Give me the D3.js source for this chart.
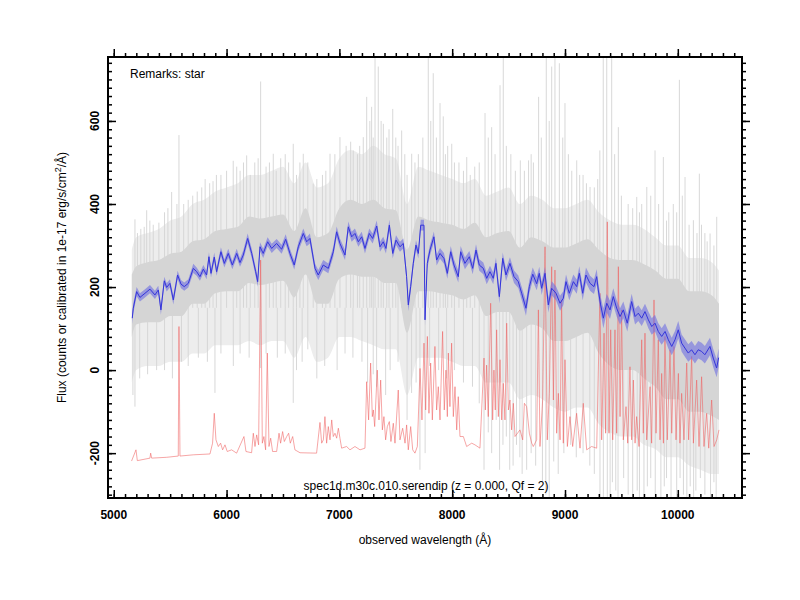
<!DOCTYPE html>
<html>
<head>
<meta charset="utf-8">
<script src="https://cdn.jsdelivr.net/npm/d3@7"></script>
<style>
body { margin: 0; background: #fff; }
text { font-family: "Liberation Sans", Arial, Helvetica, sans-serif; }
</style>
</head>
<body>
<div id="chart"></div>
<script>
const svgWidth = 800;
const svgHeight = 600;
const plotLeft = 108, plotRight = 742, plotTop = 57, plotBottom = 498;

const xDomain = [4949, 10569];
const yDomain = [-308, 754];
const xMajorTicks = [5000, 6000, 7000, 8000, 9000, 10000];
const yMajorTicks = [-200, 0, 200, 400, 600];

const xTitle = "observed wavelength (\u00c5)";
const remarks = "Remarks: star";
const specLabel = "spec1d.m30c.010.serendip (z = 0.000, Qf = 2)";

// smoothed object spectrum (blue) and its 1-sigma half width
const blueWave = [5164,5173,5203,5232,5277,5321,5365,5395,5418,5448,
  5469,5498,5528,5566,5596,5625,5661,5705,5735,5764,
  5794,5823,5844,5862,5891,5912,5950,5980,6015,6051,
  6090,6119,6148,6187,6223,6258,6276,6296,6325,6364,
  6400,6444,6488,6524,6562,6600,6636,6680,6710,6739,
  6784,6813,6857,6902,6946,6976,7005,7050,7079,7109,
  7138,7168,7198,7227,7265,7295,7331,7360,7389,7413,
  7443,7473,7502,7537,7567,7596,7611,7632,7655,7679,
  7700,7721,7750,7759,7779,7803,7838,7862,7892,7927,
  7957,7987,8016,8054,8075,8113,8152,8182,8211,8240,
  8276,8306,8335,8364,8388,8418,8448,8477,8512,8548,
  8586,8616,8654,8684,8714,8749,8772,8793,8823,8852,
  8882,8920,8956,8985,9009,9038,9074,9104,9127,9157,
  9186,9222,9257,9281,9295,9316,9340,9370,9399,9428,
  9458,9488,9517,9552,9591,9621,9650,9680,9709,9739,
  9769,9798,9827,9857,9887,9916,9946,9975,10004,10034,
  10063,10093,10122,10152,10181,10211,10240,10285,10314,10344,
  10362];
const blueFlux = [125,149,189,175,185,195,181,193,145,215,
  199,209,169,229,207,201,209,245,237,225,
  243,229,273,233,272,237,285,257,281,253,
  281,259,277,317,281,237,213,297,281,309,
  293,305,291,315,281,253,297,329,309,317,
  245,229,253,245,285,333,305,277,345,321,
  329,309,321,293,329,317,347,297,309,293,
  349,281,313,297,305,225,157,201,257,301,
  281,349,349,121,257,289,321,265,281,269,
  233,285,253,225,285,257,273,245,289,253,
  245,221,237,221,257,177,269,229,257,225,
  213,185,149,201,231,208,233,197,233,157,
  197,185,161,173,213,185,213,201,233,185,
  229,209,201,225,193,157,125,161,145,177,
  149,129,145,113,165,129,137,125,141,121,
  105,113,93,81,93,73,57,73,97,65,
  53,41,49,37,49,45,37,57,29,5,
  30];
const blueErr = [14,12,11,10,10,10,10,10,12,10,
  10,10,11,10,10,10,10,11,10,10,
  10,10,11,10,11,10,11,10,11,10,
  11,10,11,12,11,11,12,11,11,11,
  11,11,11,12,11,11,11,12,11,12,
  12,12,12,12,12,13,12,12,13,12,
  12,12,12,12,12,12,13,12,12,12,
  13,12,12,12,12,13,15,13,12,12,
  12,13,13,15,13,13,13,13,13,13,
  13,14,14,14,14,14,14,14,14,14,
  14,14,14,14,14,16,14,15,15,15,
  15,16,18,16,16,16,16,16,16,18,
  17,17,18,17,17,17,17,17,17,17,
  18,18,18,18,18,20,24,22,22,20,
  20,20,20,20,19,19,19,19,19,20,
  20,20,20,20,20,21,21,21,21,21,
  21,21,21,21,21,21,21,21,22,22,
  22];

// raw spectrum (gray): envelopes
const grayWave = [5160,5200,5300,5400,5500,5600,5700,5800,5900,6000,
  6100,6200,6300,6400,6500,6600,6700,6800,6900,7000,
  7100,7200,7300,7400,7500,7600,7700,7800,7900,8000,
  8100,8200,8300,8400,8500,8600,8700,8800,8900,9000,
  9100,9200,9300,9400,9500,9600,9700,9800,9900,10000,
  10100,10200,10300,10365];
const grayOuterHi = [290,320,330,340,360,370,400,410,430,440,
  450,470,470,480,490,450,500,440,450,510,
  530,520,540,520,510,400,490,480,470,460,
  450,460,420,430,440,400,420,410,390,390,
  400,410,380,360,350,350,340,320,300,300,
  270,270,260,240];
const grayCoreHi = [230,250,260,265,280,285,310,315,335,340,
  345,370,365,370,375,335,390,320,330,390,
  410,400,410,390,385,290,370,360,355,350,
  340,355,320,330,335,295,320,310,295,295,
  305,315,290,270,265,265,255,240,220,220,
  190,190,180,160];
const grayCoreLo = [80,110,115,115,130,130,160,160,185,190,
  190,210,205,210,215,175,230,160,160,220,
  230,225,225,210,210,90,190,190,185,180,
  170,180,130,140,140,95,110,100,70,70,
  80,90,40,10,0,0,-20,-40,-70,-70,
  -100,-100,-110,-120];
const grayOuterLo = [-30,0,10,10,20,20,40,40,60,60,
  60,70,60,70,70,30,80,20,30,80,
  80,70,60,50,50,-60,30,30,30,20,
  10,10,-30,-30,-30,-70,-60,-70,-90,-100,
  -90,-90,-130,-150,-160,-160,-180,-190,-210,-210,
  -230,-240,-250,-250];

const spikeUpWave = [5188,5240,5292,5350,5450,5513,5578,5620,5700,5780,
  5850,5950,6059,6120,6178,6250,6302,6350,6414,6480,
  6550,6591,6680,6720,6768,6850,6917,7005,7060,7123,
  7160,7212,7242,7286,7316,7345,7390,7420,7473,7520,
  7552,7600,7641,7700,7788,7832,7892,7921,7960,7996,
  8060,8129,8200,8291,8350,8424,8453,8520,8560,8604,
  8677,8720,8766,8834,8882,8911,8950,9000,9060,9104,
  9160,9222,9260,9309,9339,9370,9414,9473,9560,9636,
  9680,9725,9798,9872,9920,9960,10014,10064,10100,10138,
  10191,10240,10286,10345,
  5210,5270,5320,5400,5480,5560,5660,5740,5810,5880,
  5910,6000,6090,6150,6210,6280,6380,6440,6520,6620,
  6650,6800,6880,6960,7100,7180,7270,7300,7370,7440,
  7500,7580,7670,7740,7810,7860,7940,8020,8100,8160,
  8240,8320,8380,8480,8640,8700,8790,8860,8980,9030,
  9130,9190,9290,9440,9500,9600,9660,9760,9830,9900,
  9990,10040,10170,10210,10260,10320];
const spikeUpFlux = [363,340,385,350,380,429,566,400,420,440,
  450,470,504,480,517,500,695,490,521,510,
  500,545,521,500,449,470,521,561,540,529,
  520,561,658,634,760,731,593,560,629,540,
  577,470,521,520,760,715,643,611,540,545,
  500,513,490,619,585,686,760,520,480,505,
  505,500,658,760,731,760,739,643,480,505,
  470,441,440,529,760,760,760,585,400,417,
  400,441,529,513,380,400,699,465,350,361,
  473,330,329,369,
  330,345,360,355,390,400,410,430,460,455,
  470,480,490,500,470,510,500,480,520,470,
  500,460,480,520,550,540,600,560,600,580,
  560,520,500,560,600,560,520,500,480,470,
  500,560,520,540,480,520,560,600,560,520,
  470,450,460,520,420,390,380,420,400,360,
  380,420,330,350,310,300];

const spikeDnWave = [5188,5380,5520,5897,6060,6300,6591,6670,6980,7250,
  7330,7410,7640,7714,7760,8282,8390,8420,8450,8540,
  8600,8660,8800,8860,9310,9340,9375,9450,9470,9600,
  9640,9700,9730,9850,9900,9990,10080,10110,10160,10290,
  10320,
  5170,5230,5300,5450,5600,5660,5750,5830,5950,6120,
  6200,6350,6450,6520,6620,6720,6800,6870,7050,7120,
  7200,7300,7450,7520,7600,7680,7800,7880,7950,8020,
  8100,8180,8240,8320,8350,8480,8510,8570,8620,8700,
  8740,8830,8900,8940,8990,9050,9100,9160,9220,9260,
  9400,9420,9520,9560,9660,9760,9800,9880,9940,10020,
  10050,10140,10200,10240,10340];
const spikeDnFlux = [-88,0,-20,-55,10,5,-79,20,0,-30,
  -40,-60,-55,-240,-200,-240,-120,-240,-180,-230,
  -210,-240,-270,-320,-320,-320,-320,-290,-320,-320,
  -290,-320,-280,-320,-260,-320,-320,-280,-290,-320,
  -270,
  -60,-20,-10,0,20,10,30,20,40,40,
  30,40,30,40,0,50,-20,10,40,30,
  20,-10,0,20,-120,-30,10,0,-20,0,
  -30,-40,-80,-150,-200,-160,-240,-180,-250,-200,
  -230,-300,-220,-250,-200,-180,-210,-200,-230,-250,
  -320,-270,-260,-300,-320,-260,-320,-280,-320,-260,
  -300,-320,-260,-300,-320];

// sky spectrum (red)
const skyWave = [5158,5197,5209,5321,5327,5336,5469,5572,5578,5587,
  5705,5853,5876,5891,5906,5927,5947,5965,5986,6006,
  6045,6089,6154,6172,6222,6237,6252,6267,6284,6302,
  6317,6331,6346,6361,6376,6391,6408,6444,6465,6479,
  6497,6512,6533,6550,6565,6586,6606,6651,6798,6828,
  6843,6858,6872,6887,6902,6917,6932,6946,6961,6976,
  6991,7005,7020,7064,7094,7138,7183,7227,7242,7259,
  7277,7292,7301,7313,7336,7351,7366,7381,7395,7410,
  7425,7443,7457,7478,7493,7522,7537,7561,7582,7596,
  7611,7632,7650,7670,7691,7715,7732,7750,7765,7780,
  7794,7809,7824,7847,7862,7877,7892,7915,7930,7945,
  7957,7966,7980,7995,8010,8025,8040,8054,8069,8099,
  8128,8173,8202,8246,8282,8294,8305,8320,8341,8359,
  8370,8382,8394,8409,8424,8439,8453,8468,8483,8498,
  8512,8527,8542,8557,8601,8625,8640,8660,8684,8705,
  8719,8749,8764,8778,8802,8823,8843,8861,8882,8897,
  8911,8926,8941,8956,8970,8985,9000,9021,9044,9068,
  9103,9133,9162,9192,9236,9281,9310,9325,9346,9360,
  9375,9390,9405,9423,9443,9458,9473,9488,9502,9517,
  9541,9556,9576,9591,9606,9621,9635,9656,9680,9694,
  9709,9724,9754,9768,9789,9807,9827,9842,9857,9872,
  9886,9907,9931,9946,9966,9984,10005,10019,10034,10055,
  10079,10096,10123,10138,10167,10188,10211,10232,10256,10274,
  10300,10321,10345,10365];
const skyFlux = [-219,-192,-218,-212,-200,-212,-210,-207,105,-207,
  -204,-202,-176,-104,-168,-184,-176,-192,-180,-196,
  -192,-200,-160,-196,-199,-152,-184,-156,-180,265,
  -176,-160,-192,41,-184,-164,-196,-196,-152,-176,
  -148,-172,-160,-152,-176,-160,-192,-199,-200,-126,
  -176,-168,-112,-176,-136,-168,-120,-160,-152,-164,
  -140,-164,-188,-184,-192,-184,-192,-188,-28,-120,
  17,-112,-96,-136,0,-120,-24,-144,-112,-168,
  -136,-124,-172,-128,-176,-48,-168,-140,-176,-132,
  -192,-136,-192,-200,-184,4,-120,65,-96,81,
  -104,17,-120,57,-96,-40,-120,93,-96,0,
  -112,41,-88,65,-112,-40,-144,-64,-160,-160,
  -184,-176,-180,-188,29,-96,12,-112,161,-120,
  0,-96,97,-112,25,-120,-32,-120,113,-96,
  -72,-144,-80,-160,-144,-168,-80,-88,-152,-176,
  -184,-168,145,-184,-72,297,-168,-56,249,-72,
  241,-152,-56,-168,169,-176,25,-184,-112,-184,
  -104,-188,-80,-192,-184,-188,185,-168,89,-152,
  357,-152,97,-168,97,-152,249,-112,145,-168,
  -88,-176,8,-168,-24,-176,-112,-184,73,-152,
  89,-168,-40,-176,169,-152,73,-168,-8,-176,
  81,-168,49,-152,57,-168,-8,-176,-56,-168,
  17,-168,33,-176,-24,-184,-16,-184,-104,-188,
  -72,-184,-168,-144];

const svg = d3.select("#chart")
              .append("svg")
              .attr("width", svgWidth)
              .attr("height", svgHeight);

const xScale = d3.scaleLinear().domain(xDomain).range([plotLeft, plotRight]);
const yScale = d3.scaleLinear().domain(yDomain).range([plotBottom, plotTop]);

svg.append("clipPath")
   .attr("id", "plot-clip")
   .append("rect")
   .attr("x", plotLeft)
   .attr("y", plotTop)
   .attr("width", plotRight - plotLeft)
   .attr("height", plotBottom - plotTop);

const plot = svg.append("g").attr("clip-path", "url(#plot-clip)");

// gray raw spectrum
const grayIdx = d3.range(grayWave.length);
const grayArea = function(lo, hi) {
    return d3.area()
             .x(function(i) { return xScale(grayWave[i]); })
             .y0(function(i) { return yScale(lo[i]); })
             .y1(function(i) { return yScale(hi[i]); })
             .curve(d3.curveMonotoneX);
};

plot.append("path")
    .attr("d", grayArea(grayOuterLo, grayOuterHi)(grayIdx))
    .style("fill", "#ededed");

plot.selectAll(".spike-up")
    .data(d3.range(spikeUpWave.length))
    .enter()
    .append("line")
    .attr("class", "spike-up")
    .attr("x1", function(i) { return xScale(spikeUpWave[i]); })
    .attr("x2", function(i) { return xScale(spikeUpWave[i]); })
    .attr("y1", function(i) { return yScale(spikeUpFlux[i]); })
    .attr("y2", yScale(150))
    .style("stroke", "#d4d4d4")
    .style("stroke-width", 0.9);

plot.selectAll(".spike-dn")
    .data(d3.range(spikeDnWave.length))
    .enter()
    .append("line")
    .attr("class", "spike-dn")
    .attr("x1", function(i) { return xScale(spikeDnWave[i]); })
    .attr("x2", function(i) { return xScale(spikeDnWave[i]); })
    .attr("y1", function(i) { return yScale(spikeDnFlux[i]); })
    .attr("y2", yScale(150))
    .style("stroke", "#d4d4d4")
    .style("stroke-width", 0.9);

plot.append("path")
    .attr("d", grayArea(grayCoreLo, grayCoreHi)(grayIdx))
    .style("fill", "#d5d5d5");

// sky
plot.append("path")
    .datum(d3.range(skyWave.length))
    .attr("d", d3.line()
                 .x(function(i) { return xScale(skyWave[i]); })
                 .y(function(i) { return yScale(skyFlux[i]); }))
    .style("fill", "none")
    .style("stroke", "#ee5f5f")
    .style("stroke-opacity", 0.7)
    .style("stroke-width", 0.8);

// smoothed spectrum with error band
const blueIdx = d3.range(blueWave.length);
plot.append("path")
    .datum(blueIdx)
    .attr("d", d3.area()
                 .x(function(i) { return xScale(blueWave[i]); })
                 .y0(function(i) { return yScale(blueFlux[i] - blueErr[i]); })
                 .y1(function(i) { return yScale(blueFlux[i] + blueErr[i]); }))
    .style("fill", "#6e6ee2")
    .style("opacity", 0.6);

plot.append("path")
    .datum(blueIdx)
    .attr("d", d3.line()
                 .x(function(i) { return xScale(blueWave[i]); })
                 .y(function(i) { return yScale(blueFlux[i]); }))
    .style("fill", "none")
    .style("stroke", "#3434da")
    .style("stroke-width", 1);

// axes: ticks inward on all four sides
const xMinor = d3.range(5000, 10600, 100);
const yMinor = d3.range(-300, 760, 20);

function tickAxis(axis, values, size) {
    return axis.tickValues(values).tickSize(size).tickFormat("");
}

[[d3.axisBottom, plotBottom, -1], [d3.axisTop, plotTop, 1]].forEach(function(a) {
    svg.append("g").attr("transform", "translate(0," + a[1] + ")")
       .call(tickAxis(a[0](xScale), xMinor, 4 * a[2]));
    svg.append("g").attr("transform", "translate(0," + a[1] + ")")
       .call(tickAxis(a[0](xScale), xMajorTicks, 8 * a[2]));
});
[[d3.axisLeft, plotLeft, -1], [d3.axisRight, plotRight, 1]].forEach(function(a) {
    svg.append("g").attr("transform", "translate(" + a[1] + ",0)")
       .call(tickAxis(a[0](yScale), yMinor, 4 * a[2]));
    svg.append("g").attr("transform", "translate(" + a[1] + ",0)")
       .call(tickAxis(a[0](yScale), yMajorTicks, 8 * a[2]));
});
svg.selectAll(".domain").remove();
svg.selectAll(".tick line").style("stroke", "#000").style("stroke-width", 1.5);

svg.append("rect")
   .attr("x", plotLeft)
   .attr("y", plotTop)
   .attr("width", plotRight - plotLeft)
   .attr("height", plotBottom - plotTop)
   .style("fill", "none")
   .style("stroke", "#000")
   .style("stroke-width", 2);

// tick labels
svg.selectAll(".xlab")
   .data(xMajorTicks)
   .enter()
   .append("text")
   .attr("x", function(d) { return xScale(d); })
   .attr("y", 518.5)
   .attr("text-anchor", "middle")
   .style("font-size", "12px")
   .style("font-weight", "bold")
   .text(function(d) { return d; });

svg.selectAll(".ylab")
   .data(yMajorTicks)
   .enter()
   .append("text")
   .attr("transform", function(d) { return "translate(98.5," + yScale(d) + ") rotate(-90)"; })
   .attr("text-anchor", "middle")
   .style("font-size", "12px")
   .style("font-weight", "bold")
   .text(function(d) { return d; });

// titles
svg.append("text")
   .attr("x", (plotLeft + plotRight) / 2)
   .attr("y", 544)
   .attr("text-anchor", "middle")
   .style("font-size", "12px")
   .text(xTitle);

const yTitle = svg.append("text")
   .attr("transform", "translate(66," + (plotTop + plotBottom) / 2 + ") rotate(-90)")
   .attr("text-anchor", "middle")
   .style("font-size", "12px");
yTitle.append("tspan").text("Flux (counts or calibrated in 1e-17 erg/s/cm");
yTitle.append("tspan").attr("dy", -5).style("font-size", "9px").text("2");
yTitle.append("tspan").attr("dy", 5).text("/\u00c5)");

svg.append("text")
   .attr("x", 130)
   .attr("y", 78)
   .style("font-size", "12px")
   .text(remarks);

svg.append("text")
   .attr("x", 426)
   .attr("y", 490)
   .attr("text-anchor", "middle")
   .style("font-size", "12px")
   .text(specLabel);
</script>
</body>
</html>
